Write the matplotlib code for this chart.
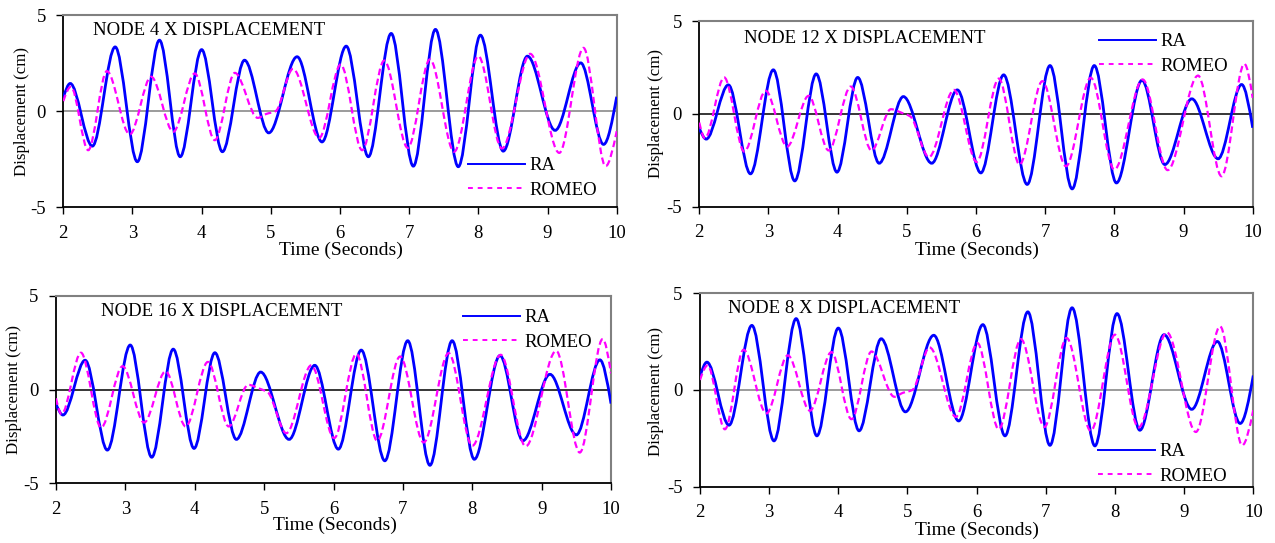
import numpy as np
import matplotlib
matplotlib.use("Agg")
import matplotlib.pyplot as plt
from matplotlib.path import Path
from matplotlib.patches import PathPatch
from matplotlib.lines import Line2D

plt.rcParams['font.family'] = ['Liberation Serif', 'DejaVu Serif']
plt.rcParams['axes.unicode_minus'] = False

# ---------------- data (peaks / troughs) ----------------
node4_ra_t = [2.00, 2.10, 2.42, 2.75, 3.07, 3.39, 3.69, 4.00, 4.30, 4.62, 4.97, 5.38, 5.74,
              6.09, 6.41, 6.74, 7.06, 7.38, 7.71, 8.03, 8.36, 8.71, 9.11, 9.48, 9.81, 10.00]
node4_ra_y = [0.70, 1.44, -1.82, 3.34, -2.63, 3.69, -2.37, 3.20, -2.11, 2.65, -1.13, 2.83, -1.60,
              3.38, -2.37, 4.04, -2.86, 4.25, -2.89, 3.95, -2.08, 2.86, -1.00, 2.51, -1.73, 0.75]
node4_romeo_t = [2.00, 2.11, 2.36, 2.63, 2.96, 3.27, 3.59, 3.90, 4.19, 4.48, 4.81, 4.93, 5.07, 5.32,
                 5.70, 6.01, 6.32, 6.64, 6.98, 7.30, 7.65, 8.00, 8.34, 8.75, 9.17, 9.52, 9.84, 10.00]
node4_romeo_y = [0.52, 1.27, -2.03, 2.08, -1.21, 1.79, -1.07, 1.96, -1.51, 1.99, -0.35, -0.15, 0.00, 2.20,
                 -1.39, 2.43, -2.03, 2.63, -1.91, 2.69, -2.11, 2.86, -1.94, 2.98, -2.17, 3.29, -2.86, -1.04]

node12_ra_t = [2.00, 2.10, 2.42, 2.74, 3.07, 3.38, 3.69, 3.99, 4.29, 4.60, 4.95, 5.36, 5.73,
               6.07, 6.40, 6.74, 7.07, 7.39, 7.71, 8.03, 8.40, 8.73, 9.12, 9.50, 9.84, 10.00]
node12_ra_y = [-0.77, -1.36, 1.56, -3.23, 2.37, -3.61, 2.15, -3.14, 1.96, -2.66, 0.93, -2.66, 1.29,
               -3.18, 2.10, -3.80, 2.60, -4.04, 2.60, -3.72, 1.81, -2.73, 0.81, -2.42, 1.58, -0.75]
node12_romeo_t = [2.00, 2.08, 2.36, 2.65, 2.96, 3.27, 3.58, 3.87, 4.19, 4.49, 4.77, 4.93, 5.05, 5.32,
                  5.68, 6.01, 6.33, 6.63, 6.96, 7.30, 7.66, 8.00, 8.41, 8.77, 9.21, 9.55, 9.88, 10.00]
node12_romeo_y = [-0.47, -1.31, 1.96, -2.03, 1.24, -1.76, 0.97, -1.97, 1.47, -1.97, 0.25, 0.05, -0.14, -2.33,
                  1.29, -2.59, 1.90, -2.73, 1.76, -2.82, 1.94, -3.00, 1.85, -3.03, 2.06, -3.36, 2.69, 0.86]

# NODE 16 and NODE 8 traces are drawn identical to NODE 12 and NODE 4 in the picture
node16_ra_t, node16_ra_y = node12_ra_t, node12_ra_y
node16_romeo_t, node16_romeo_y = node12_romeo_t, node12_romeo_y
node8_ra_t, node8_ra_y = node4_ra_t, node4_ra_y
node8_romeo_t, node8_romeo_y = node4_romeo_t, node4_romeo_y

titles = ["NODE 4 X DISPLACEMENT", "NODE 12 X DISPLACEMENT",
          "NODE 16 X DISPLACEMENT", "NODE 8 X DISPLACEMENT"]
series_labels = ["RA", "ROMEO"]
x_ticks = [2, 3, 4, 5, 6, 7, 8, 9, 10]
y_ticks = [-5, 0, 5]
x_label = "Time (Seconds)"
y_label = "Displacement (cm)"

# ---------------- helpers ----------------
W, H = 1275, 543


def smooth_path(t, y):
    """Build a cubic Bezier path through the read extrema (monotone Hermite tangents)."""
    x = np.asarray(t, float)
    v = np.asarray(y, float)
    h = np.diff(x)
    d = np.diff(v) / h
    m = np.zeros_like(v)
    for i in range(1, len(v) - 1):
        if d[i - 1] * d[i] > 0:
            w1 = 2 * h[i] + h[i - 1]
            w2 = h[i] + 2 * h[i - 1]
            m[i] = (w1 + w2) / (w1 / d[i - 1] + w2 / d[i])
    m[0] = 1.5 * d[0] if d[0] * (d[1] if len(d) > 1 else d[0]) < 0 else d[0]
    m[-1] = 1.5 * d[-1] if len(d) > 1 and d[-1] * d[-2] < 0 else d[-1]
    verts = [(x[0], v[0])]
    codes = [Path.MOVETO]
    for i in range(len(x) - 1):
        verts += [(x[i] + h[i] / 3, v[i] + m[i] * h[i] / 3),
                  (x[i + 1] - h[i] / 3, v[i + 1] - m[i + 1] * h[i] / 3),
                  (x[i + 1], v[i + 1])]
        codes += [Path.CURVE4] * 3
    return Path(verts, codes)


def px_rect(l, r, t, b):
    return [l / W, 1 - b / H, (r - l) / W, (b - t) / H]


RA_COLOR = "#0000ff"
ROMEO_COLOR = "#ff00ff"
ROMEO_DASH = (0, (3, 1.6))

panels = [
    dict(rect=(63.3, 616.7, 15.0, 207.3), title=titles[0], title_xy=(93, 30.5),
         ylab=(21.7, 112), xlab=(340.5, 250), leg=(468, 178), zero="#808080",
         ra=(node4_ra_t, node4_ra_y), romeo=(node4_romeo_t, node4_romeo_y)),
    dict(rect=(699.3, 1252.7, 21.0, 206.7), title=titles[1], title_xy=(744, 38.3),
         ylab=(656, 114), xlab=(976.5, 250), leg=(1099, 54), zero="#000000",
         ra=(node12_ra_t, node12_ra_y), romeo=(node12_romeo_t, node12_romeo_y)),
    dict(rect=(56.0, 611.0, 295.7, 483.3), title=titles[2], title_xy=(101, 311.7),
         ylab=(14, 389), xlab=(335, 525), leg=(463, 330), zero="#000000",
         ra=(node16_ra_t, node16_ra_y), romeo=(node16_romeo_t, node16_romeo_y)),
    dict(rect=(700.0, 1253.3, 293.3, 486.7), title=titles[3], title_xy=(728.5, 308.3),
         ylab=(656, 391), xlab=(977, 530), leg=(1097.7, 464), zero="#808080",
         ra=(node8_ra_t, node8_ra_y), romeo=(node8_romeo_t, node8_romeo_y)),
]

fig = plt.figure(figsize=(W / 100, H / 100), dpi=100)

for p in panels:
    l, r, t, b = p["rect"]
    ax = fig.add_axes(px_rect(l, r, t, b))
    ax.set_xlim(2, 10)
    ax.set_ylim(-5, 5)
    ax.set_xticks(x_ticks)
    ax.set_yticks(y_ticks)
    ax.tick_params(direction="out", length=5, width=1, labelsize=13.5, pad=7.5, colors="black")
    for side in ("left", "bottom"):
        ax.spines[side].set_color("black")
        ax.spines[side].set_linewidth(1.3)
    for side in ("top", "right"):
        ax.spines[side].set_color("#808080")
        ax.spines[side].set_linewidth(1.5)
    ax.axhline(0, color=p["zero"], lw=1.1, zorder=1)

    ax.add_patch(PathPatch(smooth_path(*p["ra"]), fill=False, edgecolor=RA_COLOR,
                           lw=2.0, zorder=3, capstyle="butt"))
    ax.add_patch(PathPatch(smooth_path(*p["romeo"]), fill=False, edgecolor=ROMEO_COLOR,
                           lw=1.6, ls=ROMEO_DASH, zorder=4))

    # texts
    tx, ty = p["title_xy"]
    ax.text(tx / W, 1 - ty / H, p["title"], transform=fig.transFigure,
            ha="left", va="center", fontsize=13.5)
    ax.set_ylabel(y_label, fontsize=12.2, va="center")
    yx, yy = p["ylab"]
    ax.yaxis.set_label_coords((yx - l) / (r - l), (b - yy) / (b - t))
    ax.set_xlabel(x_label, fontsize=14, va="center")
    xx, xy = p["xlab"]
    ax.xaxis.set_label_coords((xx - l) / (r - l), (b - xy) / (b - t))

    handles = [Line2D([], [], color=RA_COLOR, lw=1.4),
               Line2D([], [], color=ROMEO_COLOR, lw=1.4, ls=(0, (2.5, 2.5)))]
    lx, ly = p["leg"]
    ax.legend(handles, series_labels, loc="center left",
              bbox_to_anchor=(lx / W, 1 - ly / H), bbox_transform=fig.transFigure,
              frameon=False, borderpad=0, borderaxespad=0, handlelength=3.05,
              handletextpad=0.25, labelspacing=0.4, fontsize=13.5)

fig.savefig("out.png", dpi=100)
